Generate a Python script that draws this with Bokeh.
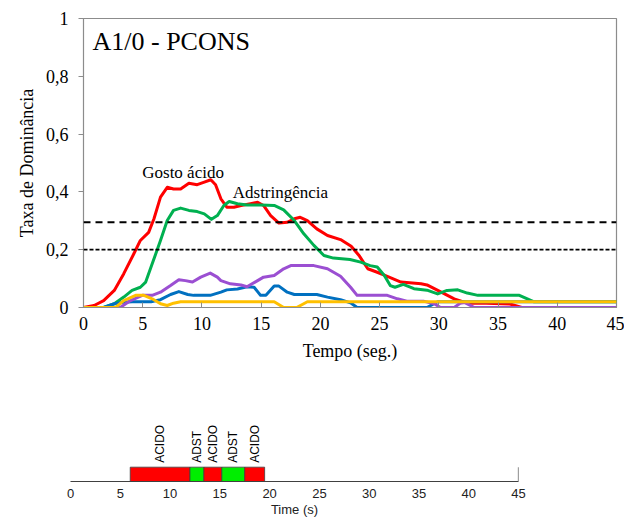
import math
from bokeh.plotting import figure
from bokeh.models import Range1d, Span, Label, FixedTicker, CustomJSTickFormatter
from bokeh.core.properties import value
from bokeh.embed import file_html
from bokeh.resources import INLINE

# ---------------- data (top chart: dominance rate) ----------------
red_t = [0, 0.9, 1.7, 2.6, 3.4, 4.25, 4.8, 5.5, 5.95, 6.5, 7.07, 7.6, 8.2, 8.9, 9.6, 10.2, 10.75, 11.15,
         11.6, 12.1, 12.7, 13.3, 14.1, 14.7, 15.2, 15.8, 16.5, 17.2, 17.8, 18.3, 18.9, 19.7, 20.6, 21.7,
         22.6, 23.3, 24.0, 24.8, 25.7, 26.8, 28.5, 29.0, 30.2, 31.3, 32.4, 34.0, 36.0, 37.0, 45]
red_v = [0, 0.007, 0.024, 0.059, 0.117, 0.186, 0.232, 0.26, 0.307, 0.382, 0.416, 0.41, 0.41, 0.43, 0.425,
         0.434, 0.442, 0.425, 0.376, 0.347, 0.347, 0.353, 0.359, 0.364, 0.353, 0.318, 0.292, 0.295, 0.307,
         0.312, 0.301, 0.272, 0.249, 0.235, 0.212, 0.178, 0.134, 0.122, 0.107, 0.088, 0.082, 0.078, 0.053,
         0.03, 0.015, 0.015, 0.012, 0, 0]

green_t = [0, 1.7, 2.6, 3.4, 4.1, 4.8, 5.25, 5.8, 6.5, 7.07, 7.6, 8.2, 8.9, 9.6, 10.2, 10.8, 11.3, 11.85,
           12.3, 13.0, 13.8, 15.0, 16.1, 16.9, 17.8, 18.6, 19.45, 20.3, 21.1, 22.5, 23.4, 24.2, 24.8, 25.4,
           25.9, 26.3, 27.0, 27.9, 29.0, 29.9, 30.7, 31.6, 32.4, 33.3, 36.8, 38.0, 45]
green_v = [0, 0, 0.013, 0.036, 0.059, 0.07, 0.088, 0.151, 0.232, 0.301, 0.336, 0.344, 0.336, 0.332, 0.324,
           0.305, 0.318, 0.353, 0.367, 0.359, 0.355, 0.355, 0.353, 0.338, 0.301, 0.255, 0.215, 0.18, 0.171,
           0.166, 0.157, 0.145, 0.14, 0.111, 0.076, 0.07, 0.08, 0.065, 0.06, 0.047, 0.059, 0.061, 0.05,
           0.042, 0.042, 0.02, 0.02]

blue_t = [0, 1.7, 2.6, 3.4, 4.1, 5.7, 6.5, 7.35, 8.05, 8.8, 9.3, 10.7, 11.6, 12.1, 13.0, 13.8, 14.4, 14.95,
          15.4, 16.1, 16.5, 17.2, 17.8, 19.7, 20.6, 21.7, 22.6, 23.1, 29.0, 29.9, 45]
blue_v = [0, 0, 0.013, 0.018, 0.02, 0.02, 0.027, 0.045, 0.055, 0.045, 0.042, 0.042, 0.053, 0.061, 0.064,
          0.072, 0.07, 0.042, 0.042, 0.074, 0.074, 0.053, 0.045, 0.045, 0.036, 0.027, 0.015, 0, 0, 0.02, 0.02]

purple_t = [0, 3.1, 3.97, 4.96, 5.8, 6.5, 7.35, 8.05, 8.6, 9.2, 9.9, 10.7, 11.3, 11.6, 12.4, 13.3, 13.8,
            14.7, 15.2, 16.1, 16.9, 17.5, 19.45, 20.6, 21.7, 22.55, 23.1, 25.65, 26.5, 27.3, 28.7, 29.6,
            30.15, 31.3, 31.8, 32.2, 33.0, 45]
purple_v = [0, 0, 0.024, 0.042, 0.042, 0.053, 0.076, 0.096, 0.093, 0.088, 0.105, 0.119, 0.105, 0.093,
            0.082, 0.078, 0.072, 0.093, 0.105, 0.111, 0.134, 0.145, 0.145, 0.134, 0.108, 0.07, 0.042, 0.042,
            0.03, 0.022, 0.022, 0.013, 0, 0, 0.015, 0.017, 0, 0]

yellow_t = [0, 2.7, 3.4, 4.4, 5.1, 5.8, 6.5, 7.07, 7.6, 8.2, 16.1, 16.9, 18.0, 18.9, 45]
yellow_v = [0, 0, 0.024, 0.042, 0.042, 0.03, 0.013, 0.007, 0.015, 0.02, 0.02, 0, 0, 0.02, 0.02]

chance_level = 0.2
significance_level = 0.295

x_ticks = [0, 5, 10, 15, 20, 25, 30, 35, 40, 45]
y_ticks = [0, 0.2, 0.4, 0.6, 0.8, 1]
X_MAX = 45

# ---------------- data (bottom band: dominant attribute) ----------------
seg_start = [6, 12, 13.4, 15.2, 17.5]
seg_end = [12, 13.4, 15.2, 17.5, 19.5]
seg_attr = ["ACIDO", "ADST", "ACIDO", "ADST", "ACIDO"]
attr_color = {"ACIDO": "#FF0000", "ADST": "#00EE00"}

SERIF = "Liberation Serif"
SANS = "Liberation Sans"

# ---------------- top chart ----------------
p = figure(width=624, height=375, output_backend="svg", toolbar_location=None,
           x_range=Range1d(0, X_MAX), y_range=Range1d(0, 1),
           min_border_left=83, min_border_right=8, min_border_top=18, min_border_bottom=68)
p.xgrid.visible = False
p.ygrid.visible = False
p.outline_line_color = "#8c8c8c"
p.outline_line_width = 1.2
p.background_fill_color = "white"
p.border_fill_color = "white"

series = [
    (red_t, red_v, "#FF0000"),
    (green_t, green_v, "#00B050"),
    (blue_t, blue_v, "#0070C0"),
    (purple_t, purple_v, "#9B4FD2"),
    (yellow_t, yellow_v, "#FFC000"),
]
for t, v, c in series:
    p.line(t, v, line_color=c, line_width=3, line_join="round", line_cap="round")

p.add_layout(Span(location=significance_level, dimension="width", line_color="black",
                  line_width=1.8, line_dash="7 5"))
p.add_layout(Span(location=chance_level, dimension="width", line_color="black",
                  line_width=1.8, line_dash="4 2"))

p.xaxis.ticker = FixedTicker(ticks=x_ticks)
p.yaxis.ticker = FixedTicker(ticks=y_ticks)
p.yaxis.formatter = CustomJSTickFormatter(
    code="return (tick === 0 || tick === 1) ? tick.toFixed(0) : tick.toFixed(1).replace('.', ',');")
for ax in (p.xaxis, p.yaxis):
    ax.axis_line_color = "#8c8c8c"
    ax.major_tick_line_color = "#8c8c8c"
    ax.minor_tick_line_color = None
    ax.major_label_text_font = SERIF
    ax.major_label_text_font_size = "18px"
    ax.major_label_text_color = "black"
    ax.axis_label_text_font = SERIF
    ax.axis_label_text_font_size = "18px"
    ax.axis_label_text_font_style = "normal"
    ax.axis_label_text_color = "black"
p.xaxis.major_tick_in = 5
p.xaxis.major_tick_out = 0
p.xaxis.major_label_standoff = 9
p.xaxis.axis_label = "Tempo (seg.)"
p.xaxis.axis_label_standoff = 8
p.yaxis.major_tick_in = 0
p.yaxis.major_tick_out = 5
p.yaxis.major_label_standoff = 10
p.yaxis.axis_label = "Taxa de Dominância"
p.yaxis.axis_label_standoff = 6

p.add_layout(Label(x=0.76, y=0.92, text="A1/0 - PCONS", text_baseline="middle",
                   text_font=SERIF, text_font_size="26px", text_color="black"))
p.add_layout(Label(x=4.96, y=0.468, text="Gosto ácido", text_baseline="alphabetic",
                   text_font=SERIF, text_font_size="17px", text_color="black"))
p.add_layout(Label(x=12.6, y=0.399, text="Adstringência", text_baseline="alphabetic",
                   text_font=SERIF, text_font_size="17px", text_color="black"))

# ---------------- bottom band chart ----------------
q = figure(width=624, height=144, output_backend="svg", toolbar_location=None,
           x_range=Range1d(0, X_MAX), y_range=Range1d(0, 6),
           min_border_left=70, min_border_right=106, min_border_top=20, min_border_bottom=37)
q.xgrid.visible = False
q.ygrid.visible = False
q.yaxis.visible = False
q.outline_line_color = None

seg_mid = [(a + b) / 2 for a, b in zip(seg_start, seg_end)]
seg_col = [attr_color[a] for a in seg_attr]
q.quad(left=seg_start, right=seg_end, bottom=0, top=1, fill_color=seg_col,
       line_color="#404040", line_width=0.8)
q.text(x=seg_mid, y=[1.3] * len(seg_mid), text=seg_attr, angle=math.pi / 2,
       text_align="left", text_baseline="middle", text_font=value(SANS),
       text_font_size="12px", text_color="black")
q.segment(x0=[X_MAX], y0=[0], x1=[X_MAX], y1=[1], line_color="#404040", line_width=1.2)

q.xaxis.ticker = FixedTicker(ticks=x_ticks)
q.xaxis.axis_line_color = "#404040"
q.xaxis.axis_line_width = 1.2
q.xaxis.major_tick_in = 0
q.xaxis.major_tick_out = 0
q.xaxis.minor_tick_line_color = None
q.xaxis.major_label_standoff = 7
q.xaxis.major_label_text_font = SANS
q.xaxis.major_label_text_font_size = "13px"
q.xaxis.major_label_text_color = "#222222"
q.xaxis.axis_label = "Time (s)"
q.xaxis.axis_label_standoff = 1
q.xaxis.axis_label_text_font = SANS
q.xaxis.axis_label_text_font_size = "13px"
q.xaxis.axis_label_text_font_style = "normal"
q.xaxis.axis_label_text_color = "#222222"

# two independent roots, stacked vertically (keeps each plot's own frame geometry)
open("out.html", "w").write(file_html([p, q], INLINE))
